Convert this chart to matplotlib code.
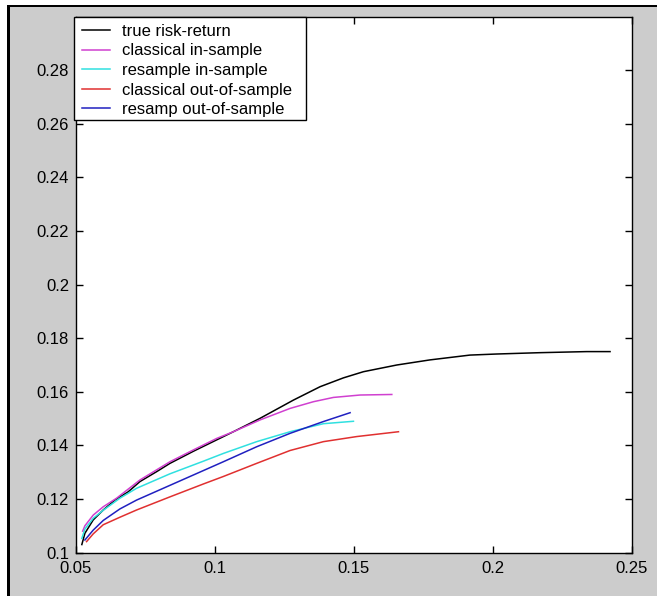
import matplotlib

matplotlib.use("Agg")
import matplotlib.pyplot as plt
from matplotlib.patches import Rectangle

# Risk (x) / return (y) curves
true_x = [0.0521, 0.0532, 0.0562, 0.0598, 0.0640, 0.0688, 0.0730, 0.0790, 0.0838, 0.0922,
          0.1066, 0.1162, 0.1282, 0.1378, 0.1462, 0.1534, 0.1654, 0.1773, 0.1917, 0.2013,
          0.2169, 0.2337, 0.2421]
true_y = [0.1030, 0.1072, 0.1122, 0.1159, 0.1196, 0.1227, 0.1265, 0.1302, 0.1333, 0.1378,
          0.1451, 0.1501, 0.1569, 0.1619, 0.1652, 0.1675, 0.1700, 0.1719, 0.1737, 0.1741,
          0.1746, 0.1750, 0.1750]

cls_in_x = [0.0524, 0.0532, 0.0562, 0.0598, 0.0646, 0.0730, 0.0838, 0.0922, 0.1006, 0.1066,
            0.1162, 0.1270, 0.1354, 0.1426, 0.1522, 0.1636]
cls_in_y = [0.1080, 0.1100, 0.1140, 0.1171, 0.1203, 0.1271, 0.1339, 0.1383, 0.1426, 0.1451,
            0.1495, 0.1538, 0.1563, 0.1579, 0.1588, 0.1590]

res_in_x = [0.0521, 0.0532, 0.0562, 0.0598, 0.0658, 0.0718, 0.0838, 0.0958, 0.1030, 0.1150,
            0.1270, 0.1390, 0.1498]
res_in_y = [0.1053, 0.1088, 0.1128, 0.1158, 0.1203, 0.1240, 0.1294, 0.1341, 0.1370, 0.1414,
            0.1451, 0.1481, 0.1490]

cls_out_x = [0.0538, 0.0562, 0.0598, 0.0658, 0.0718, 0.0838, 0.0958, 0.1030, 0.1150, 0.1270,
             0.1390, 0.1510, 0.1660]
cls_out_y = [0.1041, 0.1070, 0.1104, 0.1132, 0.1159, 0.1208, 0.1256, 0.1284, 0.1333, 0.1381,
             0.1414, 0.1433, 0.1451]

res_out_x = [0.0532, 0.0562, 0.0598, 0.0658, 0.0718, 0.0838, 0.0958, 0.1030, 0.1150, 0.1270,
             0.1390, 0.1486]
res_out_y = [0.1047, 0.1084, 0.1120, 0.1163, 0.1196, 0.1251, 0.1306, 0.1339, 0.1395, 0.1445,
             0.1489, 0.1522]

labels = ["true risk-return", "classical in-sample", "resample in-sample",
          "classical out-of-sample", "resamp out-of-sample"]
colours = ["#000000", "#d040d0", "#30e0e0", "#e03030", "#2020c0"]

x_ticks = [0.05, 0.1, 0.15, 0.2, 0.25]
y_ticks = [0.1, 0.12, 0.14, 0.16, 0.18, 0.2, 0.22, 0.24, 0.26, 0.28]

W, H = 657, 596
plt.rcParams.update({
    "font.family": ["Liberation Sans", "DejaVu Sans"],
    "font.size": 12,
})

fig = plt.figure(figsize=(W / 100, H / 100), dpi=100, facecolor="white")

# MATLAB-like grey window with a dark frame on top/left
fig.patches.append(Rectangle((9 / W, 0), 1, 1 - 6 / H, transform=fig.transFigure,
                             facecolor="#cccccc", edgecolor="none", zorder=-3))
fig.patches.append(Rectangle((7 / W, 0), 2.5 / W, 1 - 4.5 / H, transform=fig.transFigure,
                             facecolor="black", edgecolor="none", zorder=-2))
fig.patches.append(Rectangle((7 / W, 1 - 7 / H), 1, 2.5 / H, transform=fig.transFigure,
                             facecolor="black", edgecolor="none", zorder=-2))

ax = fig.add_axes([76 / W, 1 - 552.6 / H, 556 / W, 536 / H])
ax.set_facecolor("white")

series = [(true_x, true_y), (cls_in_x, cls_in_y), (res_in_x, res_in_y),
          (cls_out_x, cls_out_y), (res_out_x, res_out_y)]
handles = []
for (xs, ys), lab, col in zip(series, labels, colours):
    (h,) = ax.plot(xs, ys, color=col, lw=1.1, label=lab)
    handles.append(h)

ax.set_xlim(0.05, 0.25)
ax.set_ylim(0.1, 0.3)
ax.set_xticks(x_ticks)
ax.set_xticklabels(["0.05", "0.1", "0.15", "0.2", "0.25"])
ax.set_yticks(y_ticks)
ax.set_yticklabels([f"{v:g}" for v in y_ticks])
ax.tick_params(direction="in", length=5, width=1, top=True, right=True,
               labelsize=12, colors="black")
ax.tick_params(axis="x", pad=6)
ax.tick_params(axis="y", pad=5)
for sp in ax.spines.values():
    sp.set_linewidth(1.0)

# Legend box drawn by hand (MATLAB style, square black frame)
fig.patches.append(Rectangle((74 / W, 1 - 120 / H), 232 / W, 103 / H,
                             transform=fig.transFigure, facecolor="white",
                             edgecolor="black", lw=1.0, zorder=5))
leg = fig.legend(handles, labels, loc="upper left",
                 bbox_to_anchor=(82 / W, 1 - 24 / H), bbox_transform=fig.transFigure,
                 frameon=False, borderpad=0, borderaxespad=0, labelspacing=0.27,
                 handlelength=1.65, handletextpad=0.75, fontsize=12)
leg.set_zorder(6)

fig.savefig("out.png", dpi=100, facecolor=fig.get_facecolor())
